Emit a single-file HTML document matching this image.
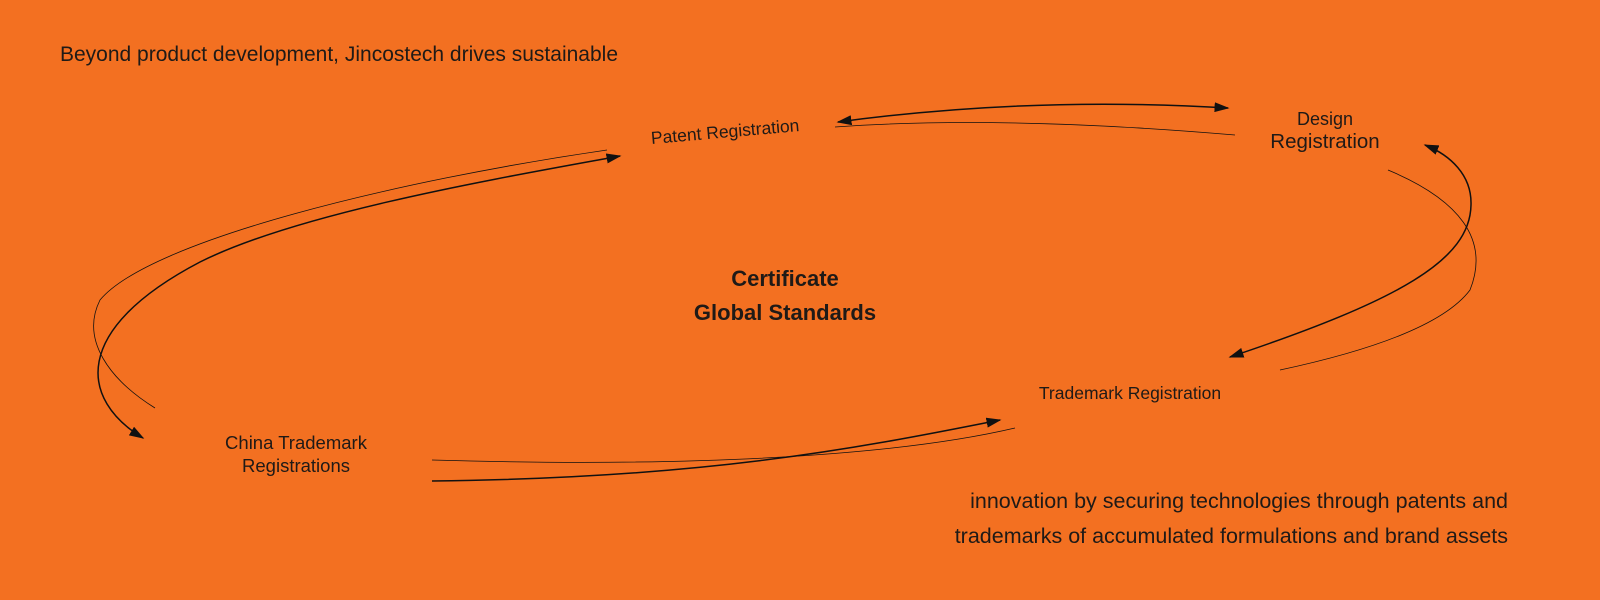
<!DOCTYPE html>
<html><head><style>
html,body{margin:0;padding:0}
body{width:1600px;height:600px;background:#F37021;position:relative;overflow:hidden;font-family:"Liberation Sans",sans-serif;color:#1f1a17}
.t{position:absolute;white-space:nowrap}
</style></head><body>
<svg width="1600" height="600" style="position:absolute;left:0;top:0">
<defs><marker id="a" viewBox="0 0 10 10" refX="9" refY="5" markerWidth="15" markerHeight="10" preserveAspectRatio="none" orient="auto-start-reverse" markerUnits="userSpaceOnUse"><path d="M0,0L10,5L0,10z" fill="#111"/></marker></defs>
<g fill="none" stroke="#111">
<path d="M143,438 C80,400 70,330 200,262 C300,212 500,178 620,156" stroke-width="1.5" marker-start="url(#a)" marker-end="url(#a)"/>
<path d="M607,150 C400,180 150,240 100,300 C80,340 110,380 155,408" stroke-width="0.8"/>
<path d="M838,122 Q1030,96 1228,108" stroke-width="1.5" marker-start="url(#a)" marker-end="url(#a)"/>
<path d="M835,127 Q1000,115 1235,135" stroke-width="0.8"/>
<path d="M1230,357 C1400,300 1470,260 1471,205 C1472,175 1450,155 1425,145" stroke-width="1.5" marker-start="url(#a)" marker-end="url(#a)"/>
<path d="M1388,170 C1460,200 1490,240 1470,290 C1440,330 1350,355 1280,370" stroke-width="0.8"/>
<path d="M432,481 C700,478 850,450 1000,420" stroke-width="1.5" marker-end="url(#a)"/>
<path d="M432,460 C700,468 900,455 1015,428" stroke-width="0.8"/>
</g></svg>
<div class="t" style="left:60px;top:43px;font-size:21px">Beyond product development, Jincostech drives sustainable</div>
<div class="t" style="left:651px;top:128px;font-size:17.5px;transform:rotate(-5deg);transform-origin:left center">Patent Registration</div>
<div class="t" style="left:1265px;top:109px;width:120px;text-align:center;font-size:18px">Design</div>
<div class="t" style="left:1255px;top:130px;width:140px;text-align:center;font-size:20.5px">Registration</div>
<div class="t" style="left:640px;top:262px;width:290px;text-align:center;font-size:22px;font-weight:bold;line-height:34px">Certificate<br>Global Standards</div>
<div class="t" style="left:1020px;top:383px;width:220px;text-align:center;font-size:17.5px">Trademark Registration</div>
<div class="t" style="left:186px;top:431px;width:220px;text-align:center;font-size:18.5px;line-height:23px">China Trademark<br>Registrations</div>
<div class="t" style="right:92px;top:484px;text-align:right;font-size:21.5px;line-height:35px">innovation by securing technologies through patents and<br>trademarks of accumulated formulations and brand assets</div>
</body></html>
